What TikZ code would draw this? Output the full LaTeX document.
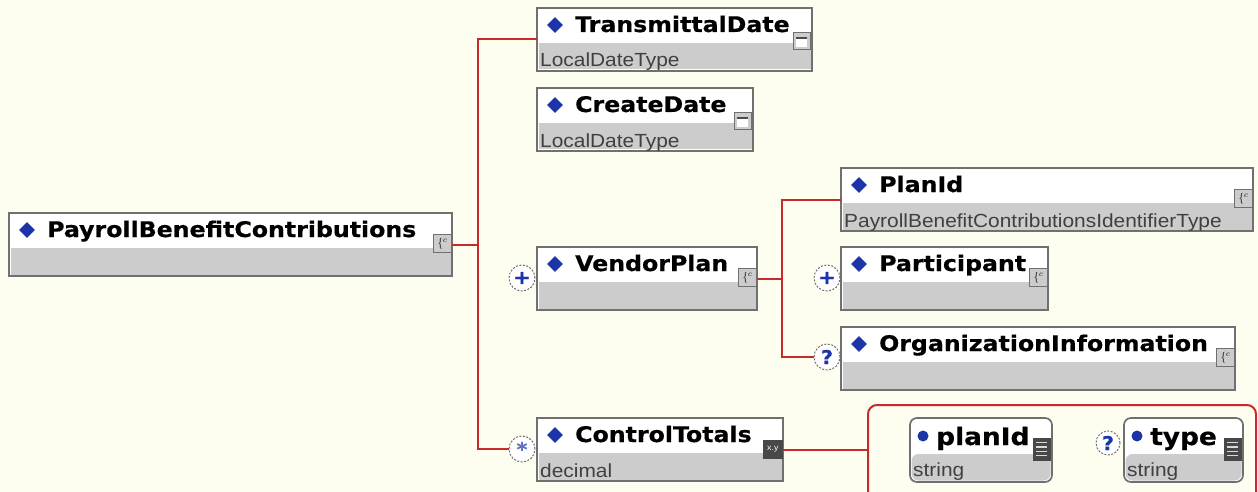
\documentclass[tikz,border=0pt]{standalone}
\usepackage{fontspec}
\usepackage{tikz}
\usetikzlibrary{shapes.geometric,positioning,calc}
\newfontfamily\namefont[FakeStretch=1.1, BoldFeatures={FakeBold=0.6}]{DejaVu Sans}
\newfontfamily\typefont[FakeStretch=1.1]{Liberation Sans}
\definecolor{paperbg}{RGB}{254,254,240}
\definecolor{linkred}{RGB}{198,42,42}
\definecolor{bandgray}{RGB}{204,204,204}
\definecolor{boxgray}{RGB}{112,112,112}
\definecolor{markblue}{RGB}{28,52,168}
\definecolor{icondark}{RGB}{72,72,72}
\tikzset{
   elem/.style={draw=boxgray, line width=1.7pt, fill=white, inner sep=0pt, outer sep=0pt,
                anchor=north west, minimum height=63pt,
                path picture={\fill[bandgray] ([shift={(1.5pt,28pt)}]path picture bounding box.south west)
                   rectangle ([shift={(-1.5pt,1.5pt)}]path picture bounding box.south east);}},
   attr/.style={elem, rounded corners=7pt, minimum height=64pt},
   title/.style={font=\namefont\bfseries\fontsize{21.5}{24}\selectfont, anchor=base west, inner sep=0pt},
   attrtitle/.style={font=\namefont\bfseries\fontsize{24}{27}\selectfont, anchor=base west, inner sep=0pt},
   typetext/.style={font=\typefont\fontsize{19}{22}\selectfont, text=black!75, anchor=base west, inner sep=0pt},
   elemmark/.style={diamond, fill=markblue, minimum width=16pt, minimum height=16pt, inner sep=0pt},
   attrdot/.style={circle, fill=markblue, minimum size=11pt, inner sep=0pt},
   cplxicon/.style={draw=boxgray, fill=bandgray, line width=1.2pt, minimum size=18pt, inner sep=0pt,
                    anchor=north east, font=\fontsize{11}{11}\selectfont},
   dateicon/.style={draw=boxgray, fill=bandgray, line width=1.2pt, minimum size=17pt, inner sep=0pt, anchor=north east,
                    path picture={\fill[white] ([shift={(3pt,-4pt)}]path picture bounding box.north west)
                       rectangle ([shift={(-3pt,3pt)}]path picture bounding box.south east);
                       \fill[black!70] ([shift={(3pt,-4pt)}]path picture bounding box.north west)
                       rectangle ([shift={(-3pt,-6.5pt)}]path picture bounding box.north east);}},
   xyicon/.style={fill=icondark, minimum width=20pt, minimum height=19pt, inner sep=0pt, anchor=north east,
                  text=white, font=\typefont\fontsize{8}{8}\selectfont},
   linesicon/.style={draw=icondark, fill=icondark, minimum width=17pt, minimum height=22pt, inner sep=0pt, anchor=north east,
                     path picture={\foreach \k in {1,...,4}
                        \draw[black!15, line width=1.2pt] ([shift={(3pt,{-\k*4.4pt})}]path picture bounding box.north west) -- ++(11pt,0pt);}},
   mult/.style={circle, draw=black!55, dash pattern=on 2pt off 1.5pt, line width=1pt, fill=white, minimum size=26pt, inner sep=0pt,
                text=markblue, font=\namefont\bfseries\fontsize{19}{19}\selectfont},
   link/.style={draw=linkred, line width=2pt},
   groupbox/.style={draw=linkred, line width=2pt, rounded corners=9pt, inner sep=0pt, anchor=north west}
}

\begin{document}
\begin{tikzpicture}[x=1pt, y=-1pt]
  \path[fill=paperbg, use as bounding box] (0,0) rectangle (1258,492);
  \clip (0,0) rectangle (1258,492);

  % element boxes
  \foreach \n/\x/\y/\w/\t in {root/9/213/443/PayrollBenefitContributions, td/537/8/275/TransmittalDate,
      cd/537/88/216/CreateDate, vp/537/247/220/VendorPlan, pid/841/168/412/PlanId,
      part/841/247/207/Participant, org/841/327/394/OrganizationInformation, ct/537/418/246/ControlTotals}{
    \node[elem, minimum width=\w pt] (\n) at (\x,\y) {};
    \node[elemmark] (\n-m) at ($(\n.north west)+(18,17)$) {};
    \node[title] (\n-t) at ($(\n.north west)+(38,24)$) {\t};
  }
  \foreach \n/\ty in {td/LocalDateType, cd/LocalDateType, pid/PayrollBenefitContributionsIdentifierType, ct/decimal}
    \node[typetext] (\n-ty) at ($(\n.north west)+(3,59)$) {\ty};

  % type icons
  \foreach \n in {root, vp, pid, part, org}
    \node[cplxicon] (\n-i) at ($(\n.north east)+(0,21)$) {$\{^{c}$};
  \foreach \n in {td, cd}
    \node[dateicon] (\n-i) at ($(\n.north east)+(-1,24)$) {};
  \node[xyicon] (ct-i) at ($(ct.north east)+(0,22)$) {x.y};

  % occurrence marks
  \node[mult] (vp-c) at (522,278) {+};
  \node[mult] (part-c) at (827,278) {+};
  \node[mult] (org-c) at (827,357) {?};
  \node[mult, text=markblue!70] (ct-c) at (522,449) {*};

  % attribute group
  \node[groupbox, minimum width=388pt, minimum height=110pt] (grp) at (867,404) {};
  \foreach \n/\x/\w/\t in {aplan/910/142/planId, atype/1124/119/type}{
    \node[attr, minimum width=\w pt] (\n) at (\x,418) {};
    \node[attrdot] (\n-m) at ($(\n.north west)+(13,18)$) {};
    \node[attrtitle] (\n-t) at ($(\n.north west)+(26,27)$) {\t};
    \node[typetext] (\n-ty) at ($(\n.north west)+(3,58)$) {string};
    \node[linesicon] (\n-i) at ($(\n.north east)+(-2,20)$) {};
  }
  \node[mult, minimum size=24pt] (atype-c) at (1108,443) {?};

  % connectors
  \coordinate (trunk) at ($(root.east)+(26,0)$);
  \draw[link] (root.east) -- (trunk) |- (td.west);
  \draw[link] (trunk) |- (ct-c.west);
  \coordinate (fork) at ($(vp.east)+(25,0)$);
  \draw[link] (vp.east) -- (fork) |- (pid.west);
  \draw[link] (fork) |- (org-c.west);
  \draw[link] (ct.east) -- (ct.east -| grp.west);
\end{tikzpicture}
\end{document}
